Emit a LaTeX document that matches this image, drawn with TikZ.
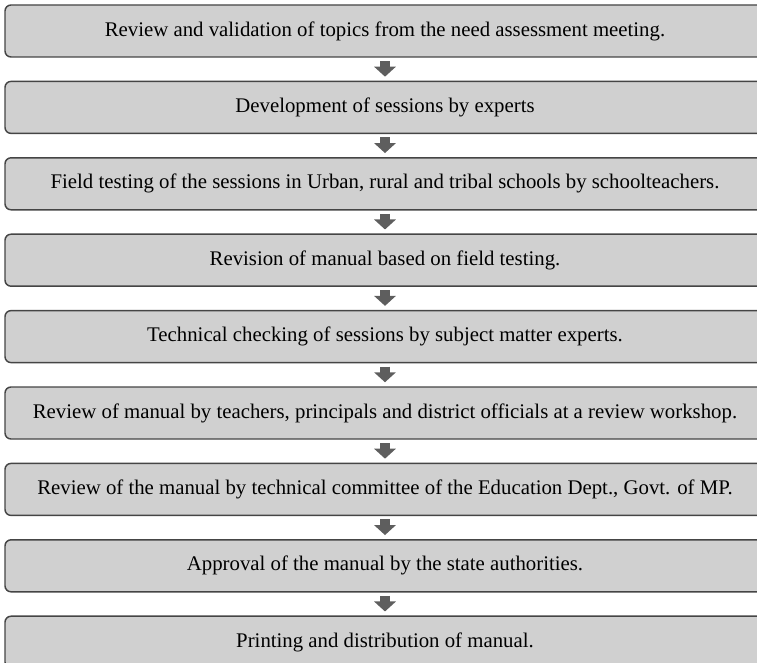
\documentclass[tikz,border=0pt]{standalone}
\usepackage{fontspec}
\setmainfont{Liberation Serif}
\usetikzlibrary{arrows.meta}
\definecolor{boxgray}{HTML}{D0D0D0}
\definecolor{edgegray}{HTML}{454545}
\definecolor{arrgray}{HTML}{5E5E5E}
\begin{document}
\begin{tikzpicture}[
  x=0.75pt, y=-0.75pt,
  stepbox/.style={
    draw=edgegray, line width=1.1pt, fill=boxgray, rounded corners=4.5pt,
    minimum width=570pt, minimum height=39pt,
    font=\fontsize{15.6}{18}\selectfont, text=black, inner sep=0pt},
  down/.style={-{Triangle[length=7.5pt, width=16pt]}, line width=7.5pt, arrgray,
    shorten <=2.5pt, shorten >=3pt},
]

% Canvas (757 x 663 px)
\useasboundingbox (0,0) rectangle (757,663);

% === Steps ===
\node[stepbox] (s1) at (385,31.0) {Review and validation of topics from the need assessment meeting.};
\node[stepbox] (s2) at (385,107.4) {Development of sessions by experts};
\node[stepbox] (s3) at (385,183.8) {Field testing of the sessions in Urban, rural and tribal schools by schoolteachers.};
\node[stepbox] (s4) at (385,260.2) {Revision of manual based on field testing.};
\node[stepbox] (s5) at (385,336.6) {Technical checking of sessions by subject matter experts.};
\node[stepbox] (s6) at (385,413.0) {Review of manual by teachers, principals and district officials at a review workshop.};
\node[stepbox] (s7) at (385,489.4) {Review of the manual by technical committee of the Education Dept., Govt. of MP.};
\node[stepbox] (s8) at (385,565.8) {Approval of the manual by the state authorities.};
\node[stepbox] (s9) at (385,642.2) {Printing and distribution of manual.};

% === Block arrows between steps ===
\draw[down] (s1.south) -- (s2.north);
\draw[down] (s2.south) -- (s3.north);
\draw[down] (s3.south) -- (s4.north);
\draw[down] (s4.south) -- (s5.north);
\draw[down] (s5.south) -- (s6.north);
\draw[down] (s6.south) -- (s7.north);
\draw[down] (s7.south) -- (s8.north);
\draw[down] (s8.south) -- (s9.north);

\end{tikzpicture}
\end{document}
